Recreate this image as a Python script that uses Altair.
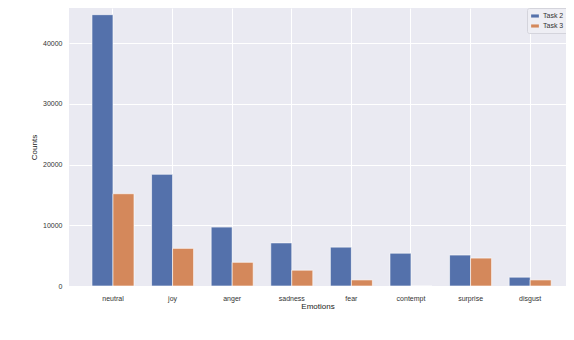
import altair as alt
import pandas as pd

emotions = ["neutral", "joy", "anger", "sadness", "fear", "contempt", "surprise", "disgust"]
task2 = [44700, 18400, 9700, 7100, 6400, 5400, 5100, 1450]
task3 = [15200, 6200, 3900, 2600, 1000, 0, 4600, 1000]
series = ["Task 2", "Task 3"]
colors = ["#5471AB", "#D4885B"]
y_ticks = [0, 10000, 20000, 30000, 40000]
caption = ["Figure 3: Emotion Distribution Comparison between Task 2 and Task 3"]

rows = []
for e, a, b in zip(emotions, task2, task3):
    rows.append({"Emotions": e, "Task": series[0], "Counts": a})
    rows.append({"Emotions": e, "Task": series[1], "Counts": b})
df = pd.DataFrame(rows)

bars = alt.Chart(df).mark_bar(stroke="white", strokeWidth=0.6).encode(
    x=alt.X(
        "Emotions:N",
        sort=emotions,
        scale=alt.Scale(paddingInner=0.295, paddingOuter=0.317, align=0.608),
        axis=alt.Axis(labelAngle=0, labelPadding=8, titlePadding=1),
    ),
    xOffset=alt.XOffset("Task:N", sort=series, scale=alt.Scale(paddingInner=0, paddingOuter=0)),
    y=alt.Y(
        "Counts:Q",
        scale=alt.Scale(domain=[0, 45800], nice=False, zero=True),
        axis=alt.Axis(values=y_ticks, format="d", labelPadding=7, titlePadding=4),
    ),
    color=alt.Color(
        "Task:N",
        scale=alt.Scale(domain=series, range=colors),
        legend=alt.Legend(
            title=None,
            orient="none",
            legendX=458,
            legendY=0,
            symbolType="M-1,-0.4H1V0.4H-1Z",
            symbolSize=60,
            symbolStrokeWidth=0,
            labelFontSize=7,
            labelColor="#333333",
            labelFont="Liberation Sans",
            rowPadding=3,
            padding=4,
            fillColor="#EEEEF4",
            strokeColor="#D4D4DC",
            cornerRadius=2,
        ),
    ),
)

cap = alt.Chart(pd.DataFrame({"t": caption})).mark_text(
    align="left", baseline="alphabetic", font="Liberation Serif", fontSize=26, color="#111111"
).encode(x=alt.value(-62), y=alt.value(362), text="t:N")

chart = (
    alt.layer(bars, cap)
    .properties(
        width=497,
        height=278,
        autosize=alt.AutoSizeParams(type="none"),
        padding={"left": 61, "top": 0, "right": 0, "bottom": 60},
    )
    .configure_view(fill="#EAEAF2", stroke=None)
    .configure_axis(
        domain=False,
        ticks=False,
        grid=True,
        gridColor="white",
        gridWidth=1,
        labelFont="Liberation Sans",
        labelFontSize=7,
        labelColor="#333333",
        titleFont="Liberation Sans",
        titleFontSize=8,
        titleFontWeight="normal",
        titleColor="#222222",
    )
)

chart.save("out.html", embed_options={"renderer": "svg", "actions": False})
